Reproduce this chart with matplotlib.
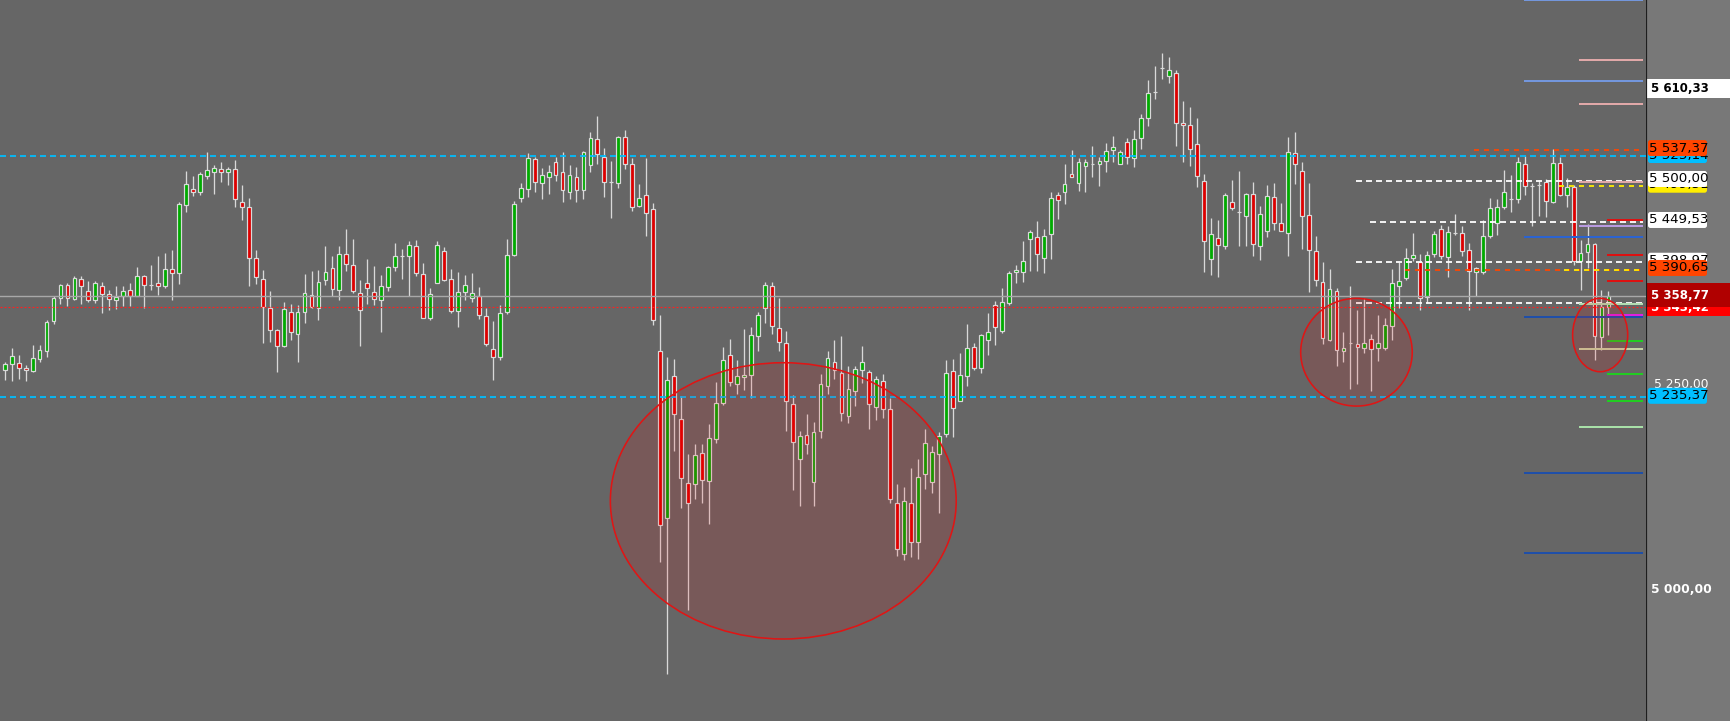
"""
Candlestick chart with support / resistance levels and highlighted zones.

Output: out.png (1731 x 721 px)
"""

import matplotlib

matplotlib.use("Agg")
import matplotlib.pyplot as plt
from matplotlib.patches import Ellipse, FancyBboxPatch, Rectangle
from matplotlib.transforms import ScaledTranslation

plt.rcParams["font.family"] = ["DejaVu Sans"]
plt.rcParams["lines.scale_dashes"] = False

# ---------------------------------------------------------------- data
OPEN = [
    5267, 5275, 5276, 5270, 5266, 5281, 5290, 5326, 5354, 5370,
    5353, 5377, 5362, 5351, 5369, 5359, 5352, 5356, 5364, 5357,
    5380, 5370, 5372, 5368, 5389, 5384, 5466, 5485, 5481, 5501,
    5506, 5509, 5505, 5509, 5469, 5463, 5402, 5377, 5342, 5315,
    5296, 5337, 5311, 5337, 5358, 5342, 5376, 5390, 5364, 5407,
    5394, 5360, 5372, 5361, 5352, 5367, 5391, 5405, 5404, 5416,
    5383, 5330, 5372, 5410, 5377, 5338, 5361, 5354, 5357, 5332,
    5293, 5283, 5337, 5406, 5474, 5485, 5521, 5492, 5500, 5518,
    5506, 5482, 5500, 5484, 5514, 5545, 5524, 5493, 5492, 5547,
    5515, 5465, 5478, 5461, 5290, 5090, 5260, 5208, 5132, 5130,
    5168, 5134, 5184, 5228, 5286, 5250, 5259, 5261, 5308, 5342,
    5369, 5318, 5300, 5227, 5160, 5189, 5133, 5194, 5248, 5277,
    5264, 5212, 5242, 5268, 5265, 5223, 5254, 5220, 5108, 5046,
    5108, 5061, 5142, 5133, 5167, 5191, 5266, 5230, 5260, 5295,
    5270, 5303, 5346, 5314, 5348, 5385, 5385, 5425, 5427, 5402,
    5431, 5478, 5482, 5503, 5492, 5513, 5515, 5515, 5519, 5532,
    5515, 5541, 5522, 5546, 5571, 5602, 5631, 5621, 5625, 5564,
    5562, 5539, 5495, 5401, 5426, 5416, 5470, 5457, 5453, 5479,
    5416, 5434, 5475, 5444, 5432, 5528, 5507, 5454, 5411, 5373,
    5304, 5363, 5290, 5300, 5299, 5294, 5305, 5294, 5294, 5320,
    5368, 5378, 5402, 5397, 5355, 5407, 5437, 5403, 5432, 5432,
    5412, 5385, 5385, 5429, 5444, 5464, 5473, 5473, 5515, 5489,
    5490, 5493, 5470, 5516, 5478, 5488, 5398, 5409, 5419, 5307,
    5343,
]
HIGH = [
    5277, 5294, 5285, 5273, 5298, 5297, 5328, 5356, 5371, 5372,
    5381, 5381, 5375, 5375, 5373, 5364, 5369, 5368, 5372, 5391,
    5382, 5394, 5405, 5408, 5412, 5469, 5507, 5501, 5506, 5530,
    5514, 5517, 5512, 5520, 5490, 5474, 5412, 5388, 5363, 5317,
    5349, 5347, 5345, 5383, 5387, 5388, 5416, 5405, 5416, 5437,
    5425, 5376, 5401, 5392, 5382, 5393, 5420, 5413, 5423, 5424,
    5396, 5366, 5423, 5415, 5389, 5385, 5382, 5384, 5367, 5342,
    5326, 5346, 5425, 5471, 5492, 5528, 5524, 5510, 5514, 5524,
    5530, 5514, 5512, 5531, 5553, 5573, 5534, 5519, 5549, 5556,
    5522, 5491, 5522, 5468, 5334, 5283, 5281, 5236, 5167, 5178,
    5178, 5203, 5253, 5295, 5305, 5280, 5317, 5319, 5337, 5373,
    5373, 5354, 5314, 5237, 5194, 5215, 5205, 5263, 5290, 5304,
    5308, 5272, 5272, 5296, 5268, 5260, 5263, 5234, 5130, 5127,
    5149, 5160, 5196, 5176, 5193, 5280, 5281, 5288, 5323, 5300,
    5311, 5336, 5350, 5366, 5386, 5394, 5422, 5436, 5446, 5437,
    5482, 5481, 5515, 5532, 5522, 5521, 5537, 5524, 5540, 5549,
    5532, 5546, 5556, 5575, 5616, 5633, 5649, 5644, 5628, 5591,
    5584, 5571, 5503, 5450, 5448, 5480, 5496, 5507, 5480, 5493,
    5465, 5490, 5492, 5468, 5547, 5553, 5518, 5492, 5429, 5397,
    5389, 5366, 5313, 5368, 5339, 5354, 5311, 5334, 5330, 5389,
    5397, 5414, 5432, 5407, 5411, 5435, 5442, 5441, 5455, 5440,
    5420, 5391, 5448, 5474, 5473, 5508, 5502, 5523, 5525, 5492,
    5496, 5497, 5533, 5524, 5498, 5490, 5424, 5443, 5420, 5364,
    5363,
]
LOW = [
    5255, 5254, 5257, 5254, 5265, 5277, 5283, 5323, 5347, 5344,
    5352, 5347, 5349, 5348, 5336, 5340, 5341, 5344, 5344, 5356,
    5342, 5364, 5358, 5366, 5352, 5371, 5457, 5477, 5478, 5497,
    5479, 5493, 5490, 5463, 5448, 5369, 5371, 5300, 5301, 5265,
    5295, 5303, 5277, 5324, 5342, 5327, 5370, 5357, 5352, 5386,
    5360, 5296, 5347, 5346, 5313, 5362, 5387, 5377, 5357, 5380,
    5330, 5327, 5372, 5374, 5336, 5319, 5351, 5349, 5329, 5296,
    5256, 5280, 5335, 5404, 5470, 5475, 5481, 5473, 5479, 5495,
    5470, 5473, 5470, 5473, 5505, 5515, 5475, 5450, 5486, 5509,
    5459, 5464, 5428, 5321, 5036, 4902, 5170, 5102, 4979, 5112,
    5108, 5082, 5180, 5225, 5248, 5238, 5243, 5234, 5290, 5324,
    5311, 5290, 5194, 5123, 5104, 5166, 5104, 5186, 5239, 5257,
    5206, 5204, 5224, 5252, 5196, 5207, 5210, 5108, 5044, 5039,
    5042, 5040, 5124, 5119, 5095, 5187, 5187, 5230, 5248, 5267,
    5264, 5286, 5297, 5312, 5346, 5372, 5373, 5387, 5386, 5384,
    5401, 5449, 5467, 5499, 5483, 5481, 5499, 5489, 5505, 5517,
    5515, 5515, 5512, 5533, 5561, 5593, 5617, 5613, 5537, 5517,
    5513, 5488, 5385, 5382, 5379, 5413, 5460, 5416, 5416, 5404,
    5400, 5427, 5436, 5434, 5404, 5491, 5413, 5361, 5369, 5299,
    5302, 5272, 5277, 5244, 5250, 5288, 5242, 5278, 5292, 5303,
    5342, 5376, 5398, 5339, 5348, 5403, 5401, 5379, 5430, 5405,
    5339, 5356, 5383, 5426, 5430, 5461, 5458, 5468, 5478, 5440,
    5453, 5451, 5468, 5477, 5463, 5394, 5364, 5390, 5280, 5292,
    5310,
]
CLOSE = [
    5275, 5284, 5270, 5268, 5282, 5292, 5325, 5354, 5370, 5354,
    5378, 5368, 5351, 5372, 5359, 5353, 5355, 5362, 5357, 5380,
    5370, 5370, 5368, 5389, 5384, 5467, 5491, 5482, 5503, 5508,
    5510, 5506, 5509, 5473, 5463, 5402, 5379, 5343, 5315, 5296,
    5341, 5313, 5337, 5360, 5343, 5373, 5385, 5365, 5407, 5395,
    5363, 5339, 5366, 5353, 5369, 5391, 5404, 5405, 5418, 5384,
    5330, 5359, 5418, 5376, 5338, 5361, 5370, 5360, 5333, 5299,
    5283, 5336, 5406, 5467, 5486, 5522, 5494, 5502, 5506, 5502,
    5484, 5502, 5484, 5529, 5546, 5527, 5493, 5493, 5547, 5515,
    5464, 5474, 5456, 5328, 5081, 5256, 5214, 5138, 5108, 5165,
    5135, 5186, 5228, 5279, 5253, 5260, 5262, 5309, 5333, 5370,
    5320, 5301, 5230, 5181, 5188, 5178, 5193, 5250, 5282, 5268,
    5216, 5244, 5269, 5277, 5226, 5257, 5220, 5112, 5052, 5110,
    5061, 5139, 5180, 5169, 5188, 5264, 5222, 5261, 5294, 5270,
    5309, 5313, 5319, 5349, 5384, 5388, 5399, 5433, 5407, 5428,
    5474, 5472, 5491, 5500, 5517, 5517, 5515, 5519, 5531, 5535,
    5530, 5524, 5545, 5571, 5601, 5602, 5631, 5628, 5565, 5562,
    5533, 5501, 5423, 5431, 5418, 5478, 5462, 5457, 5479, 5419,
    5455, 5477, 5444, 5435, 5529, 5515, 5453, 5412, 5376, 5306,
    5365, 5292, 5294, 5300, 5295, 5300, 5293, 5300, 5322, 5372,
    5374, 5402, 5406, 5354, 5406, 5431, 5404, 5433, 5432, 5411,
    5386, 5390, 5428, 5462, 5463, 5481, 5473, 5517, 5489, 5489,
    5490, 5471, 5516, 5478, 5488, 5398, 5408, 5419, 5308, 5343,
    5356,
]

# levels across the whole chart: price, colour, kind
FULL_LEVELS = [
    (5525.1, "#00bfff", "dash"),
    (5235.3, "#00bfff", "dash"),
    (5356.4, "#a8a8a8", "solid_thin"),
    (5342.8, "#ff2020", "dot"),
]

# levels drawn from a given bar to the right edge: price, first bar, colour, kind
SIDE_LEVELS = [
    (5711.7, 217.9, "#7396dc", "solid"),
    (5640.2, 225.8, "#e0a8a8", "solid"),
    (5615.3, 217.9, "#7396dc", "solid"),
    (5587.3, 225.8, "#e0a8a8", "solid"),
    (5531.9, 210.7, "#ff4500", "dash_o"),
    (5495.0, 193.8, "#ffffff", "dash"),
    (5493.8, 225.8, "#e0a8a8", "solid"),
    (5489.0, 222.9, "#ffee00", "dash_o"),
    (5447.2, 229.8, "#dd1111", "solid"),
    (5445.7, 195.8, "#ffffff", "dash"),
    (5440.6, 225.8, "#b89ae0", "solid"),
    (5427.7, 217.9, "#2b63d0", "solid"),
    (5406.0, 229.8, "#dd1111", "solid"),
    (5397.6, 193.8, "#ffffff", "dash"),
    (5387.7, 200.8, "#ff4500", "dash_o"),
    (5387.7, 222.9, "#ffee00", "dash_y"),
    (5374.8, 229.8, "#dd1111", "solid"),
    (5348.3, 193.8, "#ffffff", "dash"),
    (5346.2, 225.8, "#b0dcb0", "solid"),
    (5334.1, 229.8, "#e020e0", "solid"),
    (5331.5, 217.9, "#1f4fa8", "solid"),
    (5302.6, 229.8, "#22cc22", "solid"),
    (5292.7, 225.8, "#c4d4a4", "solid"),
    (5262.2, 229.8, "#22cc22", "solid"),
    (5230.5, 229.8, "#22cc22", "solid"),
    (5199.2, 225.8, "#a8e0a8", "solid"),
    (5143.9, 217.9, "#1f4fa8", "solid"),
    (5047.7, 217.9, "#1f4fa8", "solid"),
]

# highlighted zones: centre bar, centre price, width (bars), height (points)
ZONES = [
    (111.66, 5110.1, 49.6, 332.2),
    (193.86, 5288.8, 16.0, 129.5),
    (228.81, 5309.5, 7.9, 88.3),
]

# price tags on the scale: text, price, height px, face, text colour, bold, full width
TAGS = [
    ("5 525,14", 5525.9, 16, "#00bfff", "black", False, False),
    ("5 537,37", 5534.3, 16, "#ff4500", "black", False, False),
    ("5 499,51", 5490.2, 16, "#ffee00", "black", False, False),
    ("5 500,00", 5497.1, 16, "#ffffff", "black", False, False),
    ("5 449,53", 5447.8, 16, "#ffffff", "black", False, False),
    ("5 398,97", 5398.8, 16, "#ffffff", "black", False, False),
    ("5 390,65", 5390.1, 16, "#ff4500", "black", False, False),
    ("5 343,42", 5342.0, 17, "#ff0000", "white", True, True),
    ("5 358,77", 5357.6, 24, "#b00000", "white", True, True),
    ("5 610,33", 5605.9, 19, "#ffffff", "black", True, True),
]
SCALE_TICKS = [(5250, "5 250,00", False), (5000, "5 000,00", True)]
CURRENT_TAG = ("5 235,37", 5236.4, 16, "#00bfff", "black", False, False)

# ---------------------------------------------------------------- layout
W, H = 1731, 721
PLOT_W = 1645.7
Y_MIN, Y_MAX = 4845.4, 5712.3
X_MIN, X_MAX = -0.674, 235.34
X_END = 234.9
PX = 0.72  # points per pixel at dpi 100

BG = "#666666"
SCALE_BG = "#787878"
UP = "#00aa00"
DOWN = "#dd0000"
WICK = "#d9d9d9"

STYLES = {
    "dash": dict(lw=1.8 * PX, linestyle=(0, (6 * PX, 4 * PX))),
    "dash_o": dict(lw=1.8 * PX, linestyle=(0, (5 * PX, 5 * PX))),
    "dash_y": dict(lw=1.8 * PX, linestyle=(5 * PX, (5 * PX, 5 * PX))),
    "dot": dict(lw=1.2 * PX, linestyle=(0, (2 * PX, 2 * PX))),
    "solid": dict(lw=2.0 * PX, linestyle="-"),
    "solid_thin": dict(lw=1.4 * PX, linestyle="-"),
}


def main() -> None:
    fig = plt.figure(figsize=(W / 100, H / 100), dpi=100)
    fig.patch.set_facecolor(BG)

    ax = fig.add_axes([0, 0, PLOT_W / W, 1])
    ax.set_facecolor(BG)
    ax.set_xlim(X_MIN, X_MAX)
    ax.set_ylim(Y_MIN, Y_MAX)
    ax.set_xticks([])
    ax.set_yticks([])
    for s in ax.spines.values():
        s.set_visible(False)

    x = list(range(len(OPEN)))
    bottoms = [min(o, c) for o, c in zip(OPEN, CLOSE)]
    heights = [abs(c - o) for o, c in zip(OPEN, CLOSE)]
    fills = [UP if c > o else (DOWN if c < o else WICK) for o, c in zip(OPEN, CLOSE)]

    ax.vlines(x, LOW, HIGH, colors=WICK, lw=1.3 * PX, zorder=2)
    ax.bar(x, heights, bottom=bottoms, width=0.55, color=fills,
           edgecolor=WICK, linewidth=1.2 * PX, zorder=3)

    for price, color, kind in FULL_LEVELS:
        ax.axhline(price, color=color, zorder=4, **STYLES[kind])
    for price, start, color, kind in SIDE_LEVELS:
        ax.hlines(price, start, X_END, colors=color, zorder=4, **STYLES[kind])

    for cx, cy, w, h in ZONES:
        ax.add_patch(Ellipse((cx, cy), w, h, facecolor=(1, 0, 0, 0.12),
                             edgecolor="#e01515", lw=1.6 * PX, zorder=5))

    # price scale
    side = fig.add_axes([PLOT_W / W, 0, 1 - PLOT_W / W, 1])
    side.set_facecolor(SCALE_BG)
    side.set_xlim(PLOT_W, W)
    side.set_ylim(Y_MIN, Y_MAX)
    side.set_xticks([])
    side.set_yticks([])
    for s in side.spines.values():
        s.set_visible(False)

    lift = side.transData + ScaledTranslation(0, 3 / 100, fig.dpi_scale_trans)
    for price, text, bold in SCALE_TICKS:
        side.text(1681, price, text, color="white", fontsize=8.8,
                  fontweight="bold" if bold else "normal",
                  ha="center", va="center", zorder=2,
                  transform=lift if bold else side.transData)

    ppx = (Y_MAX - Y_MIN) / H
    for text, price, hpx, face, tcolor, bold, full in [CURRENT_TAG] + TAGS:
        h = hpx * ppx
        if full:
            side.add_patch(Rectangle((PLOT_W + 0.5, price - h / 2), W - PLOT_W, h,
                                     facecolor=face, edgecolor="none", zorder=3))
        else:
            side.add_patch(FancyBboxPatch((1648, price - h / 2), 59, h,
                                          boxstyle="round,pad=0,rounding_size=2.5",
                                          mutation_aspect=ppx,
                                          facecolor=face, edgecolor="none", zorder=3))
        side.text(1651 if full else 1649.5, price, text, color=tcolor,
                  fontsize=8.5 if bold else 9.6,
                  fontweight="bold" if bold else "normal",
                  ha="left", va="center", zorder=3)

    side.axvline(PLOT_W + 0.8, color="#1e1e1e", lw=2.2 * PX, zorder=6)

    fig.savefig("out.png", dpi=100, facecolor=BG)
    plt.close(fig)


if __name__ == "__main__":
    main()
